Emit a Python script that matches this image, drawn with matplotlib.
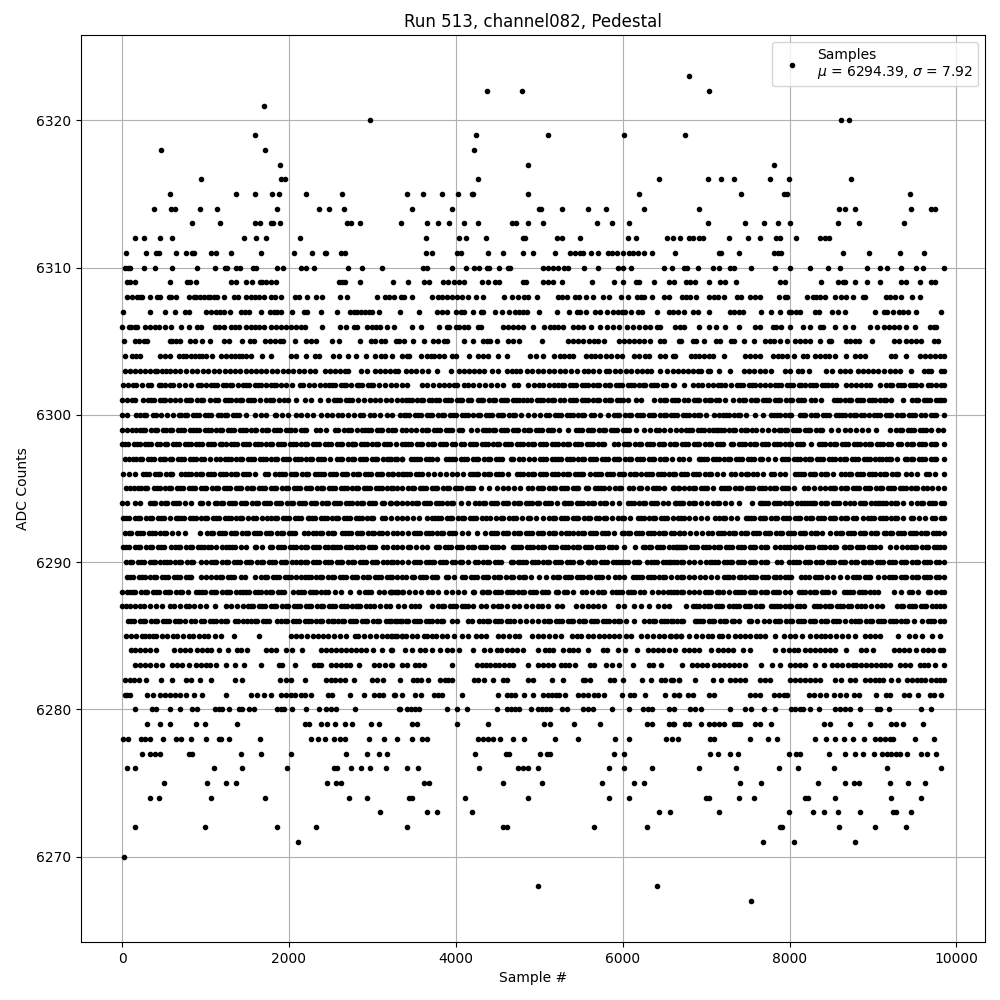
import numpy as np
import matplotlib
matplotlib.use("Agg")
import matplotlib.pyplot as plt

# Sample positions for each ADC level (in tens of samples)
adc_6323 = [679]
adc_6322 = [437, 479, 703]
adc_6321 = [170]
adc_6320 = [297, 862, 871]
adc_6319 = [159, 424, 510, 602, 675]
adc_6318 = [47, 171, 422]
adc_6317 = [189, 486, 781]
adc_6316 = [95, 191, 195, 426, 644, 702, 718, 733, 776, 799, 874]
adc_6315 = [58, 137, 159, 180, 188, 221, 264, 341, 361, 383, 403, 419, 421, 486, 620, 742, 793, 797, 944]
adc_6314 = [38, 59, 63, 93, 114, 186, 236, 248, 266, 347, 395, 500, 502, 527, 559, 580, 626, 692, 859, 866, 878, 945, 969, 974]
adc_6313 = [84, 117, 159, 165, 179, 181, 189, 270, 274, 285, 334, 365, 379, 392, 410, 427, 467, 472, 487, 505, 569, 587, 608, 702, 747, 769, 786, 800, 858, 883, 937]
adc_6312 = [15, 26, 46, 60, 146, 160, 173, 213, 364, 404, 412, 436, 481, 483, 521, 527, 549, 606, 616, 653, 660, 669, 680, 684, 691, 696, 728, 750, 765, 784, 788, 808, 836, 842, 847]
adc_6311 = [5, 29, 41, 44, 65, 77, 84, 86, 107, 112, 131, 166, 206, 228, 243, 244, 262, 267, 364, 372, 401, 406, 438, 456, 481, 492, 519, 537, 543, 549, 553, 562, 571, 582, 587, 593, 600, 607, 612, 618, 625, 635, 663, 715, 718, 740, 781, 786, 790, 864, 895, 932, 961]
adc_6310 = [4, 7, 10, 26, 39, 60, 90, 111, 123, 126, 137, 141, 157, 160, 186, 193, 215, 220, 230, 271, 288, 312, 361, 365, 396, 412, 422, 428, 437, 440, 452, 462, 465, 505, 510, 517, 522, 530, 535, 554, 570, 594, 600, 610, 650, 659, 674, 677, 690, 708, 716, 729, 734, 754, 782, 800, 825, 846, 860, 893, 908, 917, 933, 951, 960, 985]
adc_6309 = [6, 10, 15, 57, 78, 81, 88, 130, 137, 148, 156, 165, 168, 173, 178, 185, 260, 263, 267, 285, 325, 343, 362, 368, 385, 391, 398, 404, 410, 431, 439, 447, 452, 480, 484, 504, 511, 517, 527, 563, 590, 600, 616, 619, 637, 656, 662, 676, 681, 687, 703, 717, 723, 736, 789, 795, 838, 858, 864, 867, 879, 893, 909, 933, 940, 956, 970, 974]
adc_6308 = [6, 12, 18, 21, 24, 33, 42, 46, 56, 59, 65, 80, 86, 88, 93, 98, 103, 105, 110, 114, 122, 134, 139, 149, 154, 159, 164, 170, 178, 183, 190, 207, 212, 222, 232, 240, 261, 270, 305, 315, 320, 326, 334, 338, 348, 372, 379, 384, 389, 396, 401, 407, 414, 424, 433, 458, 467, 474, 482, 486, 497, 522, 527, 533, 543, 548, 556, 564, 576, 583, 598, 606, 617, 622, 626, 635, 650, 655, 671, 676, 681, 688, 704, 709, 714, 721, 737, 742, 753, 759, 765, 787, 794, 797, 821, 828, 832, 837, 843, 855, 862, 868, 876, 888, 891, 915, 920, 926, 933, 947, 956]
adc_6307 = [1, 34, 52, 63, 75, 80, 101, 107, 112, 117, 122, 129, 143, 147, 152, 167, 177, 182, 186, 190, 204, 218, 222, 239, 258, 273, 278, 281, 286, 291, 296, 300, 308, 333, 356, 378, 383, 389, 400, 406, 410, 420, 430, 432, 447, 455, 464, 471, 476, 481, 485, 500, 521, 536, 545, 549, 556, 567, 573, 581, 588, 594, 599, 603, 610, 618, 623, 641, 656, 660, 666, 674, 684, 690, 704, 729, 734, 739, 744, 766, 778, 789, 799, 802, 808, 813, 831, 835, 851, 858, 866, 903, 913, 917, 924, 931, 936, 942, 952, 982]
adc_6306 = [0, 8, 11, 15, 18, 28, 34, 39, 44, 51, 59, 71, 80, 90, 95, 111, 116, 122, 130, 135, 140, 148, 154, 159, 164, 170, 178, 184, 191, 197, 203, 209, 214, 219, 240, 261, 268, 278, 282, 294, 299, 304, 309, 318, 326, 348, 358, 380, 389, 392, 400, 404, 410, 415, 427, 430, 457, 463, 469, 475, 480, 493, 506, 513, 518, 523, 529, 540, 546, 552, 562, 573, 581, 588, 595, 605, 612, 620, 627, 633, 641, 645, 663, 669, 674, 691, 704, 712, 723, 740, 759, 765, 780, 784, 790, 801, 816, 825, 836, 840, 854, 866, 876, 896, 905, 913, 919, 925, 931, 939, 950, 968, 973, 976]
adc_6305 = [2, 15, 20, 26, 30, 57, 60, 65, 70, 81, 87, 96, 105, 122, 128, 144, 153, 158, 171, 177, 183, 189, 193, 207, 221, 227, 233, 251, 260, 285, 298, 303, 310, 315, 328, 332, 338, 349, 362, 373, 379, 386, 390, 410, 420, 432, 437, 441, 449, 463, 469, 476, 503, 534, 540, 546, 552, 560, 566, 571, 577, 596, 602, 608, 614, 620, 626, 633, 645, 650, 668, 670, 684, 688, 698, 712, 717, 730, 734, 745, 757, 771, 776, 781, 788, 797, 806, 812, 818, 825, 837, 847, 850, 868, 872, 879, 883, 899, 925, 931, 939, 945, 951, 958, 973, 978]
adc_6304 = [3, 12, 17, 22, 45, 52, 57, 68, 73, 77, 82, 87, 92, 96, 101, 108, 119, 125, 130, 135, 140, 144, 149, 154, 168, 178, 202, 209, 220, 231, 236, 253, 260, 271, 280, 292, 303, 310, 315, 324, 335, 341, 344, 358, 365, 370, 374, 380, 386, 395, 400, 416, 426, 432, 439, 450, 461, 489, 496, 505, 518, 525, 530, 536, 541, 556, 562, 567, 573, 580, 586, 593, 599, 614, 620, 627, 631, 645, 651, 660, 663, 682, 687, 692, 697, 704, 708, 722, 746, 752, 758, 764, 780, 786, 791, 797, 805, 816, 821, 831, 836, 842, 847, 855, 868, 879, 884, 891, 921, 926, 940, 956, 962, 968, 974, 980, 985]
adc_6303 = [4, 9, 15, 21, 27, 33, 39, 42, 48, 53, 58, 64, 70, 77, 84, 90, 97, 103, 110, 116, 123, 129, 135, 141, 148, 154, 160, 167, 173, 180, 186, 193, 199, 205, 212, 218, 225, 231, 243, 249, 255, 261, 267, 271, 286, 293, 303, 309, 315, 321, 327, 331, 340, 346, 352, 360, 367, 377, 394, 404, 410, 416, 422, 428, 434, 443, 451, 461, 467, 472, 477, 485, 491, 498, 505, 512, 518, 525, 531, 538, 545, 554, 559, 565, 572, 580, 584, 591, 597, 604, 610, 617, 623, 629, 634, 645, 653, 660, 666, 672, 678, 684, 690, 694, 702, 705, 715, 729, 745, 751, 757, 764, 771, 778, 794, 801, 810, 815, 823, 844, 851, 860, 866, 872, 882, 888, 894, 900, 906, 913, 920, 926, 932, 945, 961, 966, 970, 981, 985]
adc_6302 = [1, 7, 13, 17, 24, 31, 35, 44, 47, 52, 57, 61, 68, 75, 82, 91, 94, 100, 107, 114, 121, 129, 132, 139, 145, 152, 159, 166, 172, 179, 185, 191, 197, 204, 213, 217, 224, 230, 237, 243, 248, 255, 262, 268, 274, 281, 288, 295, 301, 308, 315, 322, 328, 335, 341, 360, 366, 373, 380, 386, 392, 398, 401, 410, 415, 421, 428, 435, 442, 449, 456, 470, 474, 487, 494, 500, 505, 512, 518, 523, 530, 537, 544, 551, 558, 565, 572, 579, 585, 592, 599, 606, 613, 620, 627, 634, 641, 648, 652, 660, 662, 674, 684, 690, 695, 702, 708, 714, 718, 723, 730, 737, 744, 751, 758, 764, 770, 776, 783, 790, 797, 804, 811, 818, 825, 832, 839, 846, 851, 856, 868, 874, 880, 886, 892, 897, 909, 916, 923, 930, 937, 944, 951, 958, 966, 970, 976, 982, 985]
adc_6301 = [0, 6, 12, 16, 25, 31, 38, 45, 52, 58, 63, 69, 76, 83, 90, 97, 105, 111, 115, 123, 130, 137, 144, 151, 158, 165, 172, 177, 181, 188, 194, 199, 209, 219, 227, 237, 247, 254, 261, 268, 275, 283, 290, 297, 303, 309, 316, 322, 329, 336, 340, 347, 354, 361, 368, 372, 380, 387, 394, 401, 408, 414, 418, 426, 433, 440, 447, 454, 461, 468, 476, 480, 485, 490, 497, 504, 511, 518, 525, 530, 537, 544, 551, 558, 565, 572, 579, 586, 593, 600, 606, 616, 622, 638, 645, 652, 659, 666, 674, 678, 685, 692, 699, 706, 712, 716, 723, 732, 740, 747, 754, 761, 768, 775, 782, 789, 796, 803, 810, 817, 826, 830, 838, 853, 860, 867, 874, 881, 888, 895, 902, 909, 916, 922, 936, 947, 954, 961, 968, 975, 982, 985]
adc_6300 = [0, 6, 17, 22, 26, 29, 37, 41, 47, 54, 61, 68, 71, 78, 85, 92, 99, 106, 115, 119, 126, 133, 140, 149, 159, 166, 173, 183, 185, 192, 199, 209, 215, 222, 229, 239, 245, 252, 259, 264, 271, 278, 285, 289, 297, 302, 309, 318, 324, 333, 338, 344, 351, 358, 365, 372, 379, 386, 393, 400, 407, 414, 421, 426, 429, 436, 443, 450, 457, 464, 471, 478, 487, 494, 501, 508, 512, 519, 526, 533, 540, 547, 554, 562, 566, 573, 582, 589, 596, 603, 610, 617, 624, 631, 638, 645, 652, 658, 665, 672, 679, 686, 693, 700, 710, 716, 720, 727, 734, 741, 748, 758, 768, 778, 781, 788, 795, 802, 812, 819, 826, 833, 840, 847, 856, 859, 866, 873, 880, 886, 889, 895, 901, 908, 915, 922, 929, 936, 943, 950, 958, 962, 969, 976, 985]
adc_6299 = [0, 6, 12, 17, 21, 28, 35, 42, 49, 53, 60, 67, 74, 81, 89, 92, 99, 106, 113, 120, 127, 134, 141, 148, 155, 159, 161, 168, 175, 182, 189, 196, 203, 207, 214, 221, 232, 237, 244, 255, 259, 266, 271, 274, 281, 287, 291, 298, 305, 312, 319, 323, 327, 335, 340, 346, 352, 360, 367, 374, 381, 388, 395, 404, 408, 418, 425, 432, 436, 440, 447, 454, 461, 468, 475, 482, 489, 496, 503, 510, 517, 524, 535, 544, 551, 558, 565, 572, 579, 586, 593, 600, 607, 616, 626, 633, 640, 643, 650, 657, 664, 670, 676, 683, 690, 697, 704, 712, 714, 721, 728, 735, 742, 749, 755, 760, 767, 774, 781, 787, 790, 797, 804, 811, 818, 825, 832, 839, 850, 858, 867, 873, 880, 887, 894, 904, 920, 928, 935, 942, 949, 956, 963, 970, 978, 984]
adc_6298 = [0, 7, 14, 21, 28, 35, 42, 51, 54, 61, 68, 75, 82, 89, 96, 103, 110, 117, 124, 131, 138, 145, 152, 159, 166, 173, 180, 187, 194, 201, 208, 215, 222, 229, 236, 243, 250, 257, 264, 271, 277, 279, 286, 293, 300, 307, 314, 321, 328, 335, 339, 346, 353, 360, 367, 374, 381, 388, 395, 406, 410, 417, 424, 431, 438, 445, 452, 459, 466, 473, 480, 487, 494, 501, 508, 515, 522, 529, 536, 543, 550, 557, 564, 571, 578, 590, 594, 601, 608, 615, 622, 629, 636, 643, 650, 657, 664, 671, 678, 685, 692, 699, 706, 713, 720, 730, 732, 739, 746, 753, 760, 767, 774, 781, 788, 795, 802, 809, 816, 826, 835, 842, 849, 856, 863, 870, 877, 884, 891, 898, 905, 912, 918, 922, 930, 934, 941, 948, 955, 962, 969, 976, 985]
adc_6297 = [3, 8, 13, 17, 24, 31, 38, 45, 52, 57, 60, 67, 74, 81, 88, 95, 98, 105, 112, 117, 123, 130, 137, 144, 151, 158, 165, 172, 179, 186, 193, 200, 207, 214, 221, 228, 235, 242, 249, 257, 264, 271, 278, 285, 292, 299, 306, 313, 320, 327, 335, 322, 329, 336, 346, 350, 357, 364, 371, 378, 388, 392, 399, 406, 413, 420, 427, 434, 441, 448, 455, 466, 469, 476, 480, 488, 494, 501, 508, 515, 519, 526, 533, 540, 547, 554, 561, 568, 575, 582, 589, 596, 603, 610, 617, 624, 631, 638, 645, 652, 659, 668, 672, 679, 692, 694, 701, 708, 715, 722, 729, 736, 743, 750, 757, 764, 767, 774, 782, 791, 798, 805, 812, 819, 826, 833, 840, 847, 854, 861, 868, 875, 882, 889, 896, 903, 911, 915, 922, 929, 938, 941, 948, 955, 962, 969, 976, 985]
adc_6296 = [1, 8, 15, 25, 32, 39, 46, 53, 60, 71, 75, 82, 89, 96, 103, 110, 117, 124, 131, 138, 145, 152, 159, 171, 175, 183, 188, 195, 202, 209, 216, 223, 231, 235, 242, 249, 256, 263, 270, 277, 284, 291, 298, 305, 312, 319, 325, 335, 324, 331, 338, 345, 352, 360, 367, 374, 381, 388, 395, 402, 409, 417, 420, 427, 434, 441, 448, 455, 462, 473, 480, 487, 494, 501, 508, 515, 522, 529, 536, 543, 550, 553, 561, 567, 574, 581, 588, 595, 602, 609, 616, 622, 628, 635, 642, 649, 656, 663, 670, 677, 684, 692, 699, 706, 713, 720, 730, 735, 742, 748, 750, 756, 761, 768, 778, 781, 788, 795, 806, 810, 817, 824, 831, 838, 845, 852, 862, 867, 874, 881, 888, 895, 902, 909, 916, 923, 930, 940, 946, 953, 964, 967, 974, 985]
adc_6295 = [5, 10, 14, 19, 23, 30, 38, 45, 52, 59, 66, 73, 80, 87, 94, 101, 108, 115, 122, 129, 136, 143, 150, 157, 164, 171, 178, 185, 192, 199, 206, 213, 220, 227, 234, 241, 248, 255, 262, 269, 276, 283, 290, 297, 304, 311, 318, 325, 335, 322, 329, 343, 350, 357, 364, 371, 378, 385, 392, 399, 406, 413, 420, 430, 440, 449, 456, 463, 470, 477, 486, 491, 498, 505, 512, 519, 526, 533, 540, 547, 556, 559, 567, 570, 577, 584, 591, 598, 607, 612, 619, 622, 629, 636, 643, 650, 661, 668, 660, 666, 673, 680, 687, 694, 701, 708, 718, 721, 728, 735, 742, 749, 756, 763, 770, 777, 784, 791, 798, 805, 817, 822, 829, 836, 842, 848, 855, 862, 869, 876, 883, 890, 897, 904, 911, 918, 925, 932, 939, 946, 953, 960, 965, 971, 978, 985]
adc_6294 = [0, 6, 15, 22, 33, 40, 47, 54, 61, 68, 75, 82, 93, 96, 103, 111, 114, 121, 128, 135, 142, 149, 156, 163, 170, 177, 184, 191, 198, 205, 212, 219, 226, 233, 240, 247, 254, 261, 268, 275, 282, 289, 296, 303, 311, 314, 321, 328, 335, 322, 330, 341, 348, 355, 362, 369, 376, 383, 390, 397, 406, 414, 423, 428, 435, 442, 449, 456, 463, 470, 477, 484, 491, 497, 500, 507, 514, 521, 530, 531, 538, 545, 552, 559, 566, 573, 580, 587, 596, 606, 613, 620, 627, 634, 641, 648, 654, 664, 670, 663, 668, 672, 679, 684, 687, 694, 701, 708, 713, 716, 723, 730, 740, 755, 764, 767, 774, 781, 788, 795, 802, 809, 814, 817, 821, 824, 831, 838, 845, 852, 859, 866, 872, 877, 884, 891, 898, 906, 908, 915, 922, 929, 936, 946, 953, 960, 967, 974, 981, 985]
adc_6293 = [1, 8, 15, 22, 29, 36, 43, 50, 57, 65, 67, 74, 81, 88, 95, 102, 109, 116, 123, 130, 137, 144, 151, 157, 161, 168, 174, 179, 186, 193, 200, 207, 214, 223, 224, 231, 238, 245, 252, 259, 266, 273, 280, 287, 294, 301, 311, 315, 322, 329, 335, 342, 349, 356, 366, 371, 375, 382, 389, 396, 403, 410, 417, 424, 431, 436, 441, 448, 454, 457, 464, 469, 472, 479, 486, 489, 496, 505, 512, 519, 526, 533, 540, 547, 554, 561, 568, 578, 580, 587, 594, 599, 602, 609, 618, 625, 632, 639, 646, 653, 660, 670, 666, 673, 680, 687, 694, 701, 711, 716, 723, 730, 737, 748, 750, 757, 764, 771, 778, 785, 792, 799, 806, 813, 820, 827, 834, 841, 848, 855, 862, 869, 876, 888, 894, 901, 908, 915, 922, 929, 936, 945, 948, 955, 962, 971, 974, 981, 985]
adc_6292 = [4, 11, 18, 25, 32, 39, 46, 53, 60, 67, 75, 93, 102, 109, 116, 123, 130, 137, 144, 151, 158, 165, 172, 179, 186, 193, 200, 207, 218, 223, 229, 233, 240, 247, 254, 264, 267, 274, 281, 288, 295, 302, 308, 311, 318, 325, 335, 329, 343, 350, 357, 364, 371, 378, 385, 392, 399, 408, 414, 425, 435, 442, 449, 456, 463, 470, 477, 484, 491, 498, 505, 512, 519, 526, 532, 536, 540, 547, 554, 561, 568, 575, 582, 589, 599, 602, 609, 616, 623, 630, 637, 644, 651, 662, 669, 658, 667, 674, 681, 688, 695, 702, 707, 714, 721, 728, 735, 742, 749, 756, 763, 770, 777, 784, 791, 798, 805, 812, 819, 826, 833, 839, 849, 856, 863, 870, 877, 884, 891, 898, 905, 913, 916, 923, 930, 937, 944, 951, 958, 965, 972, 979, 985]
adc_6291 = [1, 8, 15, 22, 29, 36, 43, 50, 59, 63, 70, 77, 84, 91, 98, 103, 106, 113, 120, 125, 128, 135, 142, 149, 159, 161, 168, 177, 180, 187, 194, 201, 208, 215, 222, 229, 236, 243, 251, 254, 261, 268, 275, 282, 289, 296, 303, 313, 318, 325, 335, 330, 343, 345, 352, 359, 366, 376, 380, 387, 394, 401, 408, 415, 422, 429, 436, 443, 450, 457, 468, 471, 478, 485, 492, 499, 506, 513, 520, 527, 534, 541, 548, 555, 562, 569, 576, 583, 592, 602, 615, 624, 627, 634, 641, 648, 655, 660, 665, 670, 664, 668, 675, 682, 689, 696, 703, 710, 717, 724, 731, 738, 745, 752, 759, 766, 773, 782, 788, 793, 800, 807, 814, 821, 828, 835, 842, 849, 856, 865, 867, 874, 881, 888, 895, 902, 909, 920, 928, 935, 941, 945, 952, 959, 966, 973, 980, 985]
adc_6290 = [5, 12, 19, 26, 33, 40, 46, 50, 57, 64, 71, 78, 85, 95, 101, 106, 113, 120, 127, 134, 141, 148, 155, 162, 169, 176, 183, 190, 197, 204, 213, 215, 222, 229, 236, 243, 250, 257, 264, 271, 278, 285, 292, 299, 306, 313, 318, 325, 335, 322, 329, 343, 350, 357, 364, 372, 374, 381, 388, 395, 405, 408, 415, 423, 426, 433, 440, 447, 454, 466, 469, 474, 477, 484, 491, 498, 505, 512, 519, 526, 533, 540, 548, 550, 558, 560, 567, 574, 581, 588, 596, 599, 606, 613, 620, 629, 634, 641, 648, 655, 662, 670, 658, 665, 672, 679, 686, 693, 700, 705, 707, 714, 721, 729, 731, 738, 745, 752, 759, 766, 773, 785, 790, 799, 804, 811, 818, 825, 832, 839, 846, 853, 860, 867, 874, 881, 888, 891, 898, 905, 912, 919, 926, 933, 940, 947, 954, 961, 968, 975, 985]
adc_6289 = [6, 13, 20, 27, 34, 41, 48, 55, 62, 69, 76, 83, 95, 101, 106, 113, 120, 127, 134, 142, 147, 159, 167, 174, 181, 188, 195, 202, 209, 214, 219, 226, 233, 240, 247, 254, 261, 268, 275, 282, 289, 296, 303, 310, 317, 324, 335, 329, 340, 347, 350, 357, 364, 371, 378, 388, 391, 398, 407, 411, 418, 425, 432, 439, 446, 453, 460, 466, 469, 476, 483, 490, 500, 508, 517, 524, 531, 538, 545, 552, 558, 561, 568, 575, 582, 591, 595, 602, 612, 616, 623, 630, 637, 644, 651, 658, 670, 665, 672, 679, 686, 693, 699, 706, 713, 722, 725, 732, 739, 746, 753, 760, 767, 774, 781, 788, 795, 802, 814, 818, 823, 830, 834, 838, 845, 852, 861, 869, 876, 883, 890, 897, 906, 913, 919, 926, 933, 940, 947, 954, 961, 968, 975, 985]
adc_6288 = [0, 6, 9, 16, 23, 30, 37, 44, 51, 58, 65, 72, 79, 89, 92, 99, 106, 113, 120, 127, 129, 136, 141, 145, 152, 159, 166, 173, 180, 187, 194, 205, 211, 218, 225, 232, 239, 247, 255, 262, 273, 284, 291, 298, 308, 314, 321, 327, 331, 335, 322, 324, 330, 337, 344, 351, 358, 367, 372, 379, 388, 395, 403, 410, 420, 422, 431, 433, 440, 447, 454, 461, 468, 475, 482, 489, 496, 503, 510, 520, 522, 530, 533, 540, 551, 556, 563, 570, 575, 578, 587, 592, 599, 606, 613, 621, 626, 635, 642, 648, 654, 661, 670, 658, 665, 672, 680, 686, 692, 699, 706, 713, 720, 727, 735, 738, 745, 752, 759, 766, 773, 780, 787, 794, 800, 811, 818, 825, 832, 839, 846, 853, 865, 869, 876, 883, 890, 897, 906, 925, 934, 943, 947, 954, 966, 968, 975, 982, 985]
adc_6287 = [0, 5, 10, 15, 22, 26, 34, 41, 48, 57, 62, 69, 76, 80, 86, 93, 100, 111, 124, 131, 138, 145, 151, 157, 164, 171, 178, 185, 192, 199, 206, 213, 220, 227, 234, 241, 248, 255, 262, 269, 276, 283, 285, 292, 297, 302, 309, 316, 321, 331, 338, 346, 351, 356, 371, 379, 386, 393, 400, 407, 414, 421, 430, 436, 444, 450, 454, 461, 470, 476, 484, 491, 498, 503, 510, 521, 527, 544, 551, 558, 564, 571, 578, 594, 602, 614, 622, 632, 642, 649, 656, 676, 684, 691, 698, 705, 712, 719, 728, 732, 739, 746, 753, 760, 767, 778, 781, 788, 795, 802, 809, 817, 829, 836, 843, 850, 857, 864, 870, 874, 881, 886, 891, 898, 905, 911, 929, 936, 943, 950, 957, 964, 971, 980, 985]
adc_6286 = [7, 14, 21, 28, 35, 42, 49, 56, 63, 70, 75, 82, 87, 94, 98, 105, 112, 119, 126, 135, 139, 145, 150, 155, 162, 169, 176, 186, 191, 198, 205, 212, 219, 226, 233, 240, 247, 254, 259, 266, 273, 280, 287, 294, 301, 308, 316, 320, 327, 333, 322, 330, 336, 343, 350, 357, 364, 371, 378, 385, 396, 402, 414, 419, 428, 433, 440, 447, 454, 461, 470, 477, 484, 491, 499, 506, 513, 520, 527, 534, 541, 548, 555, 562, 569, 576, 583, 590, 597, 604, 614, 625, 632, 639, 646, 653, 660, 670, 658, 665, 672, 687, 689, 696, 703, 710, 717, 724, 731, 733, 740, 751, 754, 761, 769, 775, 782, 789, 796, 803, 810, 817, 824, 831, 838, 845, 852, 859, 866, 874, 878, 885, 892, 899, 906, 913, 920, 927, 934, 941, 949, 959, 966, 973, 980, 985]
adc_6285 = [5, 11, 17, 24, 27, 32, 37, 41, 48, 54, 61, 66, 73, 80, 85, 92, 98, 103, 111, 118, 134, 164, 202, 208, 215, 222, 229, 235, 241, 247, 254, 261, 268, 279, 283, 290, 297, 304, 311, 318, 323, 327, 335, 322, 329, 336, 340, 347, 354, 362, 366, 372, 376, 383, 390, 398, 408, 415, 424, 430, 436, 450, 457, 464, 471, 476, 491, 498, 505, 512, 519, 526, 539, 545, 550, 559, 565, 572, 578, 584, 590, 596, 604, 610, 622, 629, 636, 643, 650, 657, 664, 670, 658, 664, 670, 680, 688, 695, 702, 707, 716, 719, 726, 735, 741, 746, 752, 760, 765, 770, 782, 793, 800, 806, 815, 825, 832, 838, 842, 849, 856, 863, 870, 878, 890, 896, 902, 909, 930, 943, 950, 959, 971, 980]
adc_6284 = [11, 16, 21, 27, 33, 41, 62, 69, 75, 81, 90, 96, 102, 107, 116, 127, 138, 142, 150, 173, 179, 185, 196, 204, 216, 238, 244, 250, 256, 262, 268, 274, 280, 286, 292, 301, 312, 323, 322, 339, 348, 357, 363, 372, 381, 390, 396, 404, 420, 434, 441, 449, 454, 461, 467, 473, 480, 499, 507, 512, 517, 529, 536, 541, 546, 558, 576, 581, 594, 603, 617, 630, 636, 642, 648, 656, 663, 674, 680, 686, 691, 706, 714, 720, 726, 732, 744, 753, 783, 792, 799, 805, 810, 818, 824, 830, 836, 842, 848, 854, 868, 886, 892, 900, 925, 931, 937, 943, 952, 960, 966, 972, 980, 984]
adc_6283 = [15, 22, 28, 34, 41, 48, 60, 66, 72, 80, 89, 95, 100, 105, 113, 125, 135, 146, 167, 188, 192, 207, 230, 235, 239, 250, 256, 262, 268, 273, 284, 302, 308, 315, 323, 322, 336, 342, 351, 356, 362, 396, 425, 431, 436, 441, 447, 452, 458, 464, 469, 486, 498, 504, 510, 517, 526, 531, 536, 543, 561, 566, 580, 587, 596, 612, 631, 636, 646, 671, 683, 689, 695, 701, 710, 716, 722, 727, 734, 740, 747, 766, 779, 788, 801, 806, 812, 819, 830, 841, 851, 857, 863, 870, 876, 880, 886, 892, 898, 904, 910, 914, 920, 932, 938, 944, 956, 961, 966, 974, 985]
adc_6282 = [4, 9, 14, 20, 29, 47, 60, 76, 82, 93, 106, 135, 144, 189, 197, 202, 219, 244, 250, 255, 261, 267, 278, 299, 305, 313, 333, 349, 354, 358, 367, 381, 387, 391, 396, 422, 427, 434, 444, 456, 461, 486, 492, 515, 528, 552, 555, 561, 585, 590, 600, 623, 634, 646, 651, 660, 668, 658, 667, 687, 708, 718, 729, 735, 741, 747, 765, 770, 776, 800, 806, 812, 819, 825, 830, 836, 855, 862, 872, 879, 890, 896, 902, 907, 912, 921, 930, 941, 947, 953, 958, 962, 969, 975, 980, 985]
adc_6281 = [3, 6, 10, 30, 37, 46, 51, 57, 63, 69, 77, 86, 96, 124, 155, 162, 170, 179, 191, 196, 202, 207, 214, 219, 226, 247, 251, 273, 290, 302, 308, 313, 327, 326, 336, 351, 358, 374, 379, 384, 407, 451, 461, 466, 471, 482, 492, 505, 510, 515, 520, 524, 531, 547, 553, 558, 566, 570, 578, 599, 609, 614, 627, 651, 662, 668, 667, 678, 684, 703, 710, 753, 759, 765, 781, 787, 793, 797, 823, 829, 836, 844, 853, 860, 868, 877, 883, 904, 915, 920, 937, 943, 954, 968, 973, 981]
adc_6280 = [16, 36, 41, 57, 70, 84, 90, 111, 116, 120, 128, 140, 144, 152, 158, 186, 190, 194, 204, 221, 236, 244, 250, 256, 279, 333, 332, 341, 346, 351, 356, 389, 402, 413, 449, 461, 466, 471, 476, 490, 498, 503, 508, 513, 527, 533, 552, 559, 564, 587, 607, 624, 630, 635, 655, 661, 681, 687, 694, 729, 746, 754, 769, 782, 802, 807, 812, 816, 825, 835, 854, 860, 866, 873, 884, 905, 909, 919, 958, 969]
adc_6279 = [30, 45, 58, 89, 99, 138, 219, 224, 239, 246, 255, 267, 275, 298, 308, 348, 353, 401, 439, 506, 513, 542, 573, 629, 635, 656, 661, 660, 675, 680, 694, 704, 710, 716, 721, 733, 737, 741, 758, 765, 778, 841, 848, 872, 897, 921, 927, 936, 960]
adc_6278 = [1, 7, 23, 28, 33, 49, 65, 71, 83, 100, 116, 119, 128, 165, 227, 235, 243, 254, 261, 267, 296, 314, 329, 347, 359, 365, 427, 433, 439, 445, 453, 469, 482, 519, 546, 591, 607, 652, 659, 666, 705, 710, 752, 774, 785, 831, 844, 855, 865, 876, 889, 902, 908, 914, 920, 924, 950, 973]
adc_6277 = [24, 33, 39, 45, 80, 84, 142, 167, 202, 268, 293, 308, 318, 423, 460, 464, 501, 509, 513, 590, 601, 705, 714, 729, 738, 799, 808, 813, 847, 866, 878, 888, 901, 911, 917, 922, 928, 932, 941, 957, 965, 976]
adc_6276 = [6, 16, 110, 144, 198, 254, 258, 274, 286, 297, 316, 341, 355, 428, 475, 481, 486, 499, 584, 602, 635, 692, 736, 787, 810, 853, 917, 982]
adc_6275 = [50, 102, 124, 137, 245, 256, 262, 362, 368, 456, 503, 575, 613, 625, 741, 766, 834, 867, 877, 883, 920, 942, 962]
adc_6274 = [33, 44, 107, 171, 272, 294, 344, 348, 411, 486, 583, 607, 700, 704, 739, 757, 819, 822, 855, 922, 957]
adc_6273 = [309, 365, 377, 419, 643, 657, 715, 799, 828, 841, 858, 884, 924, 927, 945]
adc_6272 = [16, 99, 186, 233, 342, 456, 461, 566, 629, 788, 791, 859, 903, 940]
adc_6271 = [211, 768, 805, 878]
adc_6270 = [2]
adc_6268 = [498, 641]
adc_6267 = [754]

# Further samples inside the runs that read as solid bars in the dense rows
more_6298 = [4, 18, 31, 45, 65, 79, 92, 107, 120, 134, 149, 163, 177, 190, 205, 219, 233, 247, 261, 275, 290, 304, 318, 343, 357, 371, 385, 399, 421, 435, 449, 463, 477, 491, 505, 519, 533, 547, 561, 575, 605, 619, 633, 647, 661, 675, 689, 703, 717, 743, 757, 771, 785, 799, 813, 839, 853, 867, 881, 895, 909, 945, 959, 973]
more_6297 = [21, 35, 49, 71, 85, 127, 141, 155, 169, 183, 197, 211, 225, 239, 261, 275, 289, 303, 317, 354, 368, 396, 410, 424, 438, 452, 505, 523, 537, 551, 565, 579, 593, 607, 621, 635, 649, 698, 712, 726, 740, 754, 795, 809, 823, 837, 851, 865, 879, 893, 907, 919, 945, 959, 973]
more_6296 = [29, 43, 57, 79, 93, 107, 121, 135, 149, 192, 206, 220, 239, 253, 267, 281, 295, 309, 342, 356, 424, 438, 452, 477, 491, 505, 519, 533, 547, 571, 585, 599, 613, 632, 646, 660, 674, 688, 703, 814, 828, 842, 871, 885, 899, 913, 927]
more_6295 = [27, 42, 56, 70, 84, 98, 112, 126, 140, 154, 168, 182, 196, 210, 224, 238, 252, 266, 280, 294, 308, 347, 361, 375, 389, 403, 417, 502, 516, 530, 544, 574, 595, 640, 684, 698, 725, 739, 753, 767, 781, 795, 852, 866, 880, 894, 908, 922, 936, 950]
more_6294 = [37, 51, 65, 118, 132, 146, 160, 174, 188, 202, 216, 230, 244, 258, 272, 286, 300, 352, 366, 380, 394, 432, 446, 460, 474, 488, 511, 535, 549, 563, 577, 610, 624, 638, 771, 785, 799, 828, 842, 856, 888, 902, 912, 926, 957, 971]
more_6293 = [5, 19, 33, 47, 71, 85, 99, 113, 127, 141, 183, 197, 211, 228, 242, 256, 270, 284, 298, 379, 393, 407, 421, 516, 530, 544, 558, 572, 622, 636, 650, 720, 754, 768, 782, 796, 810, 824, 838, 852, 866, 880, 898, 912, 926]
more_6292 = [8, 22, 36, 50, 106, 120, 134, 148, 162, 176, 190, 204, 237, 251, 271, 285, 299, 354, 368, 382, 396, 446, 460, 474, 488, 502, 516, 551, 565, 579, 606, 620, 634, 648, 718, 732, 746, 760, 774, 788, 802, 816, 830, 860, 874, 888, 902, 920, 934, 948, 962, 976]
more_6291 = [5, 19, 33, 47, 67, 81, 95, 132, 191, 205, 219, 233, 247, 258, 272, 286, 300, 391, 405, 419, 433, 447, 475, 489, 503, 517, 531, 545, 559, 573, 587, 631, 645, 672, 686, 700, 714, 728, 742, 756, 770, 797, 811, 825, 839, 853, 871, 885, 899, 949, 963, 977]
more_6290 = [9, 23, 37, 54, 68, 82, 110, 124, 138, 152, 166, 180, 194, 208, 219, 233, 247, 261, 275, 289, 303, 354, 368, 385, 399, 437, 451, 481, 495, 509, 523, 537, 564, 578, 592, 603, 617, 638, 652, 711, 725, 742, 756, 770, 808, 822, 836, 850, 864, 878, 895, 909, 923, 937, 951, 965, 979]
more_6289 = [10, 24, 38, 52, 66, 80, 117, 131, 171, 185, 199, 223, 237, 251, 265, 279, 293, 307, 321, 361, 375, 422, 436, 450, 480, 521, 535, 549, 572, 620, 634, 648, 728, 742, 756, 770, 784, 798, 880, 894, 923, 937, 951, 965, 979]
more_6288 = [13, 27, 41, 55, 69, 96, 110, 124, 149, 163, 177, 191, 215, 229, 243, 295, 437, 451, 465, 479, 493, 507, 596, 610, 702, 716, 742, 756, 770, 784, 815, 829, 843, 873, 887, 901]
more_6287 = [154, 168, 182, 196, 210, 224, 238, 252, 266, 280, 383, 397, 411, 688, 702, 716, 736, 750, 764, 785, 799, 813, 833, 847, 861, 933, 947, 961, 975]
more_6286 = [11, 25, 39, 53, 67, 109, 123, 159, 173, 195, 209, 223, 237, 251, 263, 277, 291, 305, 340, 354, 368, 382, 437, 451, 465, 510, 524, 538, 552, 566, 580, 594, 636, 650, 693, 707, 721, 786, 800, 814, 828, 842, 856, 882, 896, 910, 924, 938, 970]
more_6300 = [75, 89, 103, 123, 137, 340, 355, 369, 383, 397, 411, 440, 454, 468, 523, 537, 551, 593, 607, 621, 635, 649, 662, 676, 690, 724, 738, 785, 799, 816, 830, 844, 863, 877, 905, 919, 933, 947, 973]
more_6299 = [25, 39, 57, 71, 85, 103, 117, 131, 145, 172, 186, 200, 218, 295, 309, 364, 378, 392, 444, 458, 472, 486, 500, 514, 548, 562, 576, 590, 604, 680, 694, 708, 718, 732, 746, 794, 808, 822, 836, 932, 946, 960]
more_6301 = [35, 49, 80, 94, 127, 141, 155, 258, 272, 344, 358, 376, 391, 405, 430, 444, 458, 472, 501, 515, 541, 555, 569, 583, 597, 649, 663, 689, 703, 744, 758, 772, 786, 800, 814, 857, 871, 885, 899, 913, 951, 965, 979]
more_6302 = [110, 124, 149, 163, 182, 252, 266, 284, 298, 527, 541, 555, 569, 583, 596, 610, 624, 638, 741, 755, 786, 800, 814, 828, 842, 920, 934, 948]

levels = [6323, 6322, 6321, 6320, 6319, 6318, 6317, 6316, 6315, 6314, 6313, 6312, 6311, 6310,
          6309, 6308, 6307, 6306, 6305, 6304, 6303, 6302, 6301, 6300, 6299, 6298, 6297, 6296,
          6295, 6294, 6293, 6292, 6291, 6290, 6289, 6288, 6287, 6286, 6285, 6284, 6283, 6282,
          6281, 6280, 6279, 6278, 6277, 6276, 6275, 6274, 6273, 6272, 6271, 6270, 6268, 6267]
rows = [adc_6323, adc_6322, adc_6321, adc_6320, adc_6319, adc_6318, adc_6317, adc_6316, adc_6315,
        adc_6314, adc_6313, adc_6312, adc_6311, adc_6310, adc_6309, adc_6308, adc_6307, adc_6306,
        adc_6305, adc_6304, adc_6303, adc_6302, adc_6301, adc_6300, adc_6299, adc_6298, adc_6297,
        adc_6296, adc_6295, adc_6294, adc_6293, adc_6292, adc_6291, adc_6290, adc_6289, adc_6288,
        adc_6287, adc_6286, adc_6285, adc_6284, adc_6283, adc_6282, adc_6281, adc_6280, adc_6279,
        adc_6278, adc_6277, adc_6276, adc_6275, adc_6274, adc_6273, adc_6272, adc_6271, adc_6270,
        adc_6268, adc_6267]
more_levels = [6302, 6301, 6300, 6299, 6298, 6297, 6296, 6295, 6294, 6293, 6292, 6291, 6290, 6289, 6288, 6287, 6286]
more_rows = [more_6302, more_6301, more_6300, more_6299, more_6298, more_6297, more_6296, more_6295, more_6294,
             more_6293, more_6292, more_6291, more_6290, more_6289, more_6288, more_6287, more_6286]

all_rows = rows + more_rows
all_levels = levels + more_levels
samples = np.concatenate([np.array(r) * 10 for r in all_rows])
counts = np.concatenate([np.full(len(r), lvl) for r, lvl in zip(all_rows, all_levels)])

fig, ax = plt.subplots(figsize=(10, 10))
ax.plot(samples, counts, 'k.', label='Samples\n$\\mu$ = 6294.39, $\\sigma$ = 7.92')
ax.set_title('Run 513, channel082, Pedestal')
ax.set_xlabel('Sample #')
ax.set_ylabel('ADC Counts')
ax.grid(True)
ax.legend(loc='upper right')
fig.subplots_adjust(left=0.081, right=0.985, top=0.965, bottom=0.058)
fig.savefig('out.png', dpi=100)
